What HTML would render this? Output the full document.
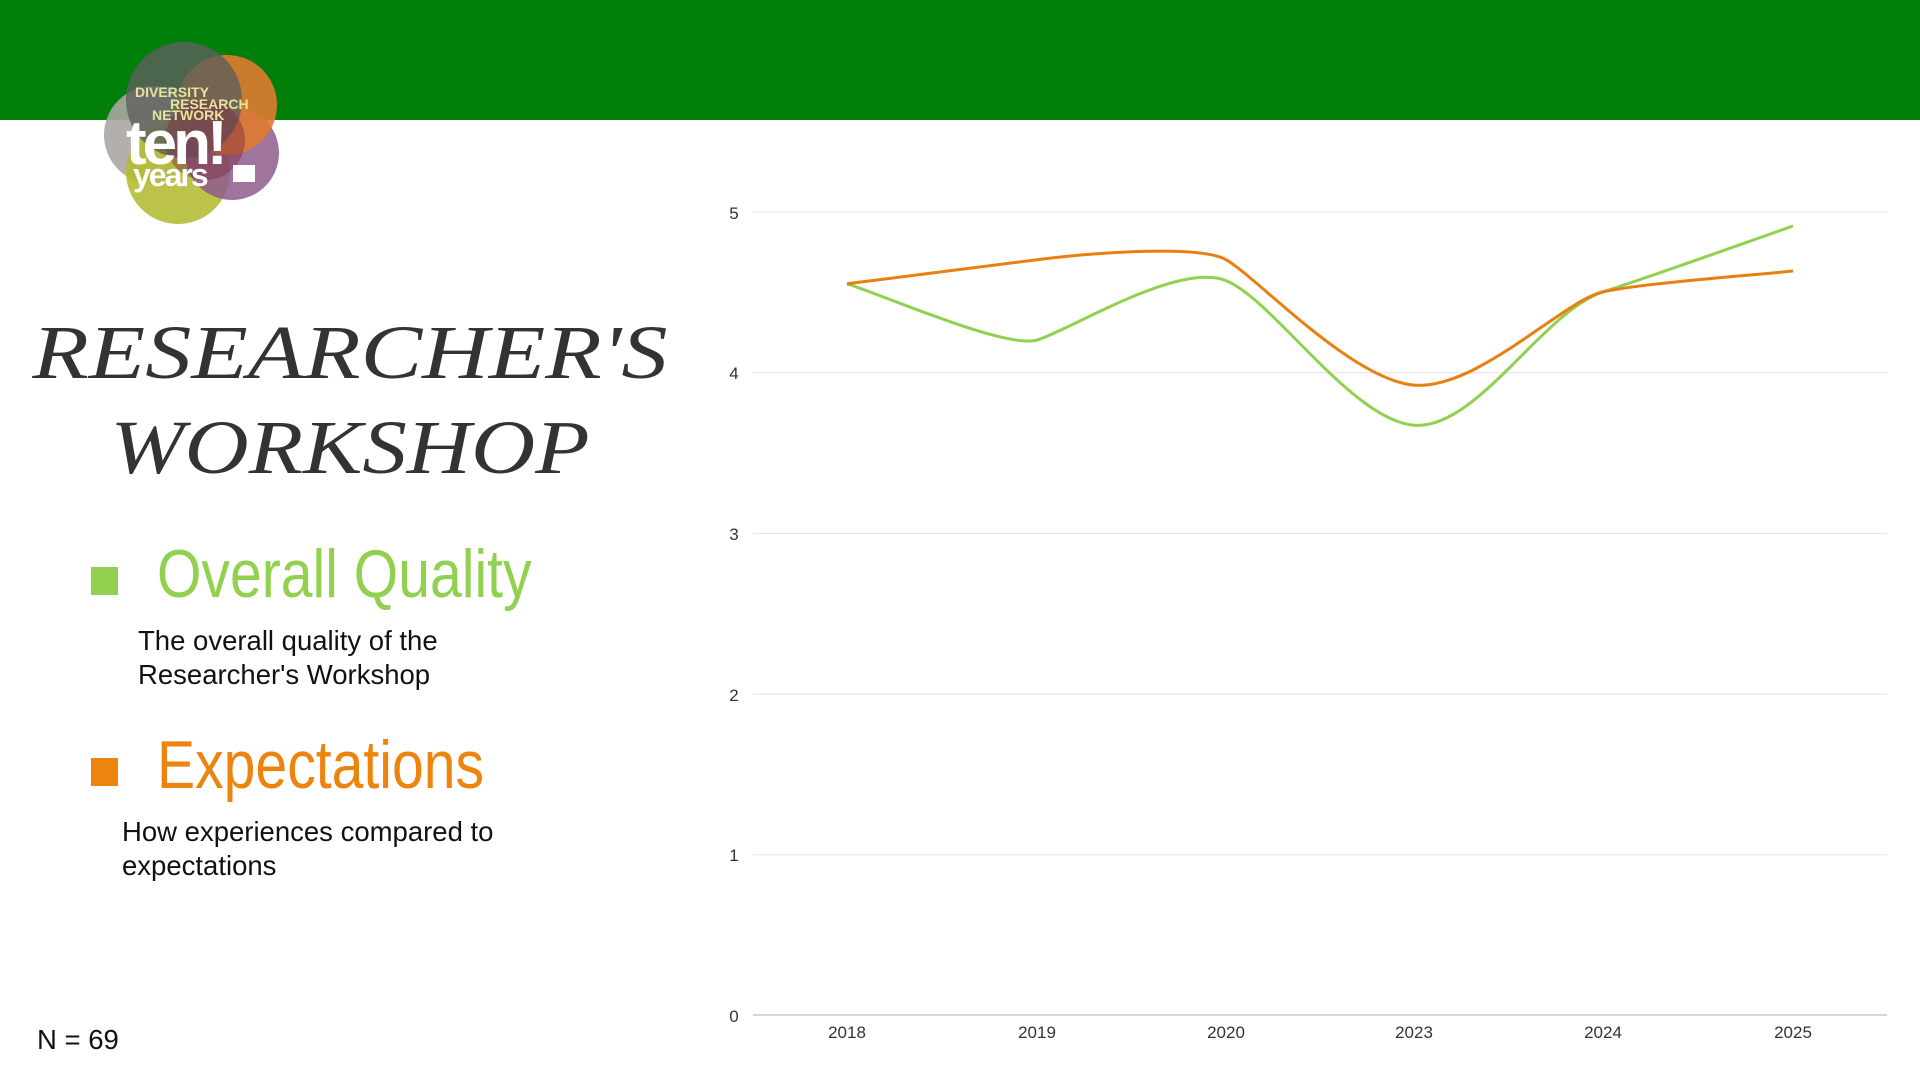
<!DOCTYPE html>
<html><head><meta charset="utf-8"><style>
body{margin:0;width:1920px;height:1080px;background:#fff;position:relative;overflow:hidden;font-family:"Liberation Sans",sans-serif}
.bar{position:absolute;left:0;top:0;width:1920px;height:120px;background:#00800b}
.t{position:absolute;white-space:nowrap}
.title{font-family:"Liberation Serif",serif;font-style:italic;font-size:76px;color:#333;left:0;width:700px;text-align:center;line-height:1;transform:scaleX(1.17);transform-origin:350px 0}
.head{font-family:"Liberation Sans Narrow","Liberation Sans",sans-serif;font-size:68px;line-height:1;transform-origin:0 0}
.desc{font-size:27.5px;color:#111;line-height:34px}
.sq{position:absolute;width:27px;height:28px}
</style></head><body>
<div class="bar"></div>
<svg style="position:absolute;left:0;top:0" width="340" height="240">
<circle cx="153" cy="135" r="49" fill="#aaa6a3" opacity="0.9"/>
<circle cx="178" cy="172" r="52" fill="#b5bd35" opacity="0.9"/>
<circle cx="232" cy="153" r="47" fill="#8e5c8c" opacity="0.85"/>
<circle cx="227" cy="105" r="50" fill="#e07b30" opacity="0.9"/>
<circle cx="184" cy="100" r="58" fill="#5e5f5d" opacity="0.8"/>
<circle cx="205" cy="140" r="40" fill="#7a2b45" opacity="0.45"/>
<text x="135" y="97" font-family="Liberation Sans" font-weight="bold" font-size="14" fill="#e4e59a">DIVERSITY</text>
<text x="170" y="109" font-family="Liberation Sans" font-weight="bold" font-size="14" fill="#e4e59a">RESEARCH</text>
<text x="152" y="120" font-family="Liberation Sans" font-weight="bold" font-size="14" fill="#e4e59a">NETWORK</text>
<text x="126" y="164" font-family="Liberation Sans" font-weight="bold" font-size="62" fill="#fff" letter-spacing="-4">ten!</text>
<text x="133" y="186" font-family="Liberation Sans" font-weight="bold" font-size="32" fill="#fff" letter-spacing="-2">years</text>
<rect x="233" y="165" width="22" height="17" fill="#fff"/>
</svg>
<div class="t title" style="top:315px;transform:scaleX(1.215)">RESEARCHER'S</div>
<div class="t title" style="top:410px">WORKSHOP</div>
<div class="sq" style="left:91px;top:567px;background:#92d050"></div>
<div class="t head" style="left:157px;top:540px;color:#92d050;transform:scaleX(0.84)">Overall Quality</div>
<div class="t desc" style="left:138px;top:624px">The overall quality of the<br>Researcher's Workshop</div>
<div class="sq" style="left:91px;top:758px;background:#ec840e"></div>
<div class="t head" style="left:157px;top:731px;color:#ec840e;transform:scaleX(0.84)">Expectations</div>
<div class="t desc" style="left:122px;top:815px">How experiences compared to<br>expectations</div>
<div class="t desc" style="left:37px;top:1023px">N = 69</div>
<svg style="position:absolute;left:0;top:0" width="1920" height="1080" font-family="Liberation Sans" font-size="17" fill="#333">
<g stroke="#e6e6e6" stroke-width="1.2">
<line x1="753" x2="1887" y1="212" y2="212"/><line x1="753" x2="1887" y1="372.7" y2="372.7"/>
<line x1="753" x2="1887" y1="533.4" y2="533.4"/><line x1="753" x2="1887" y1="694.1" y2="694.1"/>
<line x1="753" x2="1887" y1="854.8" y2="854.8"/></g>
<line x1="753" x2="1887" y1="1015" y2="1015" stroke="#ccc" stroke-width="1.5"/>
<g text-anchor="middle"><text x="734" y="219">5</text><text x="734" y="379">4</text><text x="734" y="540">3</text><text x="734" y="701">2</text><text x="734" y="861">1</text><text x="734" y="1022">0</text>
<text x="847" y="1038">2018</text><text x="1037" y="1038">2019</text><text x="1226" y="1038">2020</text><text x="1414" y="1038">2023</text><text x="1603" y="1038">2024</text><text x="1793" y="1038">2025</text></g>
<path fill="none" stroke="#92d050" stroke-width="3" d="M847,283.8 C878.7,293.2 1005.5,349.3 1037,340.1 C1068.5,330.9 1178.3,261.3 1226,280.6 C1273.7,299.9 1351.5,420 1414,425.2 C1476.5,430.4 1543,311.3 1603,291.9 C1663,272.5 1761.3,237 1793,226"/>
<path fill="none" stroke="#e97f10" stroke-width="3" d="M847,283.8 C878.7,279.8 1005.5,263.7 1037,259.7 C1068.5,255.7 1195.5,242.6 1226,259.7 C1256.5,276.8 1351.5,379.7 1414,385.1 C1476.5,390.5 1563,300.8 1603,291.9 C1643,283 1761.3,274.5 1793,271"/>
</svg>
</body></html>
